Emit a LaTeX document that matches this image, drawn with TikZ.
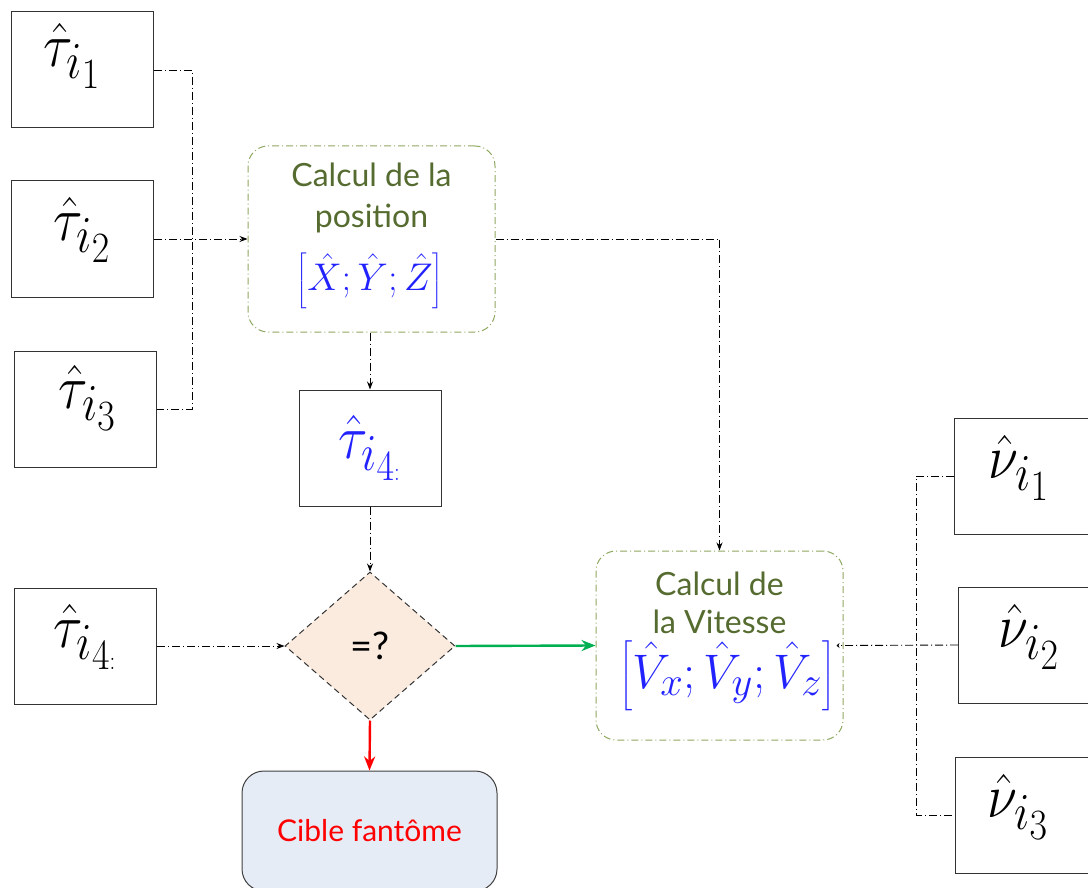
\documentclass[tikz,border=0pt]{standalone}
\usepackage{graphicx}
\usepackage{fontspec}
\setmainfont{Lato}
\usetikzlibrary{shapes.geometric,arrows.meta}
\definecolor{olivebd}{HTML}{8FA860}
\definecolor{olivetx}{HTML}{556B2F}
\definecolor{mblue}{HTML}{2222FF}
\definecolor{okgreen}{HTML}{00B050}
\definecolor{peach}{HTML}{FBEBDF}
\definecolor{lblue}{HTML}{E6ECF6}
\newcommand\mymath[2]{\scalebox{#1}{\Huge$#2$}}
\newcommand\boxmath[3]{\raisebox{#2}[\height][\depth]{\hspace*{#1}\scalebox{2.2}[2.5]{\Huge$#3$}}}
\newcommand\tcolon{\scalebox{0.6}{$\scriptscriptstyle:$}}
\begin{document}
\begin{tikzpicture}[x=1pt,y=-1pt,
  inbox/.style={draw=black!80, line width=1pt, minimum width=142pt, minimum height=116pt, inner sep=0pt},
  calcbox/.style={draw=olivebd, dash pattern=on 7pt off 3pt on 1pt off 3pt, line width=1pt, rounded corners=20pt, minimum width=247pt, inner sep=0pt},
  calctext/.style={text=olivetx, anchor=base, font=\fontsize{32}{36}\selectfont, inner sep=0pt},
  mathtext/.style={text=mblue, inner sep=0pt},
  link/.style={dash pattern=on 8pt off 3pt on 1pt off 3pt, line width=0.9pt, black},
  arr/.style={-{Stealth[length=8pt,width=6pt]}},
  thick arrow/.style={line width=2.4pt, -{Stealth[length=14pt,width=11pt]}}
]
\useasboundingbox (0,0) rectangle (1088,888);

% left inputs
\node[inbox] (t1) at (82.5,70) {\boxmath{-20pt}{14pt}{\hat{\tau}_{i_1}}};
\node[inbox] (t2) at (82.5,239) {\boxmath{0pt}{9pt}{\hat{\tau}_{i_2}}};
\node[inbox] (t3) at (85.5,409) {\boxmath{5pt}{11pt}{\hat{\tau}_{i_3}}};
\node[inbox] (t4) at (85.5,646) {\boxmath{0pt}{9pt}{\hat{\tau}_{i_{4\tcolon}}}};

% position box
\node[calcbox, minimum height=186pt] (pos) at (371.5,239) {};
\node[calctext] (posT1) at (371.5,187) {Calcul de la};
\node[calctext] (posT2) at (371.5,227) {position};
\node[mathtext] (posM) at (370,281) {\mymath{1.55}{\left[\hat{X};\hat{Y};\hat{Z}\right]}};

% tau4 estimate
\node[inbox, text=mblue] (t4b) at (370,448) {\boxmath{0pt}{0pt}{\hat{\tau}_{i_{4\tcolon}}}};

% decision
\node[diamond, draw=black!80, dash pattern=on 6pt off 4pt, line width=1pt, fill=peach, minimum width=170pt, minimum height=148pt, inner sep=0pt] (dec) at (370,646) {\fontsize{38}{40}\selectfont =?};

% ghost target
\node[draw=black!75, line width=1pt, fill=lblue, rounded corners=22pt, minimum width=255pt, minimum height=120pt, text=red] (cib) at (369.5,831) {\fontsize{30}{32}\selectfont Cible fantôme};

% velocity box
\node[calcbox, minimum height=189pt] (vit) at (719.5,645.5) {};
\node[calctext] (vitT1) at (719.5,595) {Calcul de};
\node[calctext] (vitT2) at (719.5,633) {la Vitesse};
\node[mathtext] (vitM) at (727.5,676) {\mymath{1.95}{\left[\hat{V}_x;\hat{V}_y;\hat{V}_z\right]}};

% right inputs
\node[inbox, minimum width=150pt, anchor=west] (n1) at (954,476) {\boxmath{-20pt}{8pt}{\hat{\nu}_{i_1}}};
\node[inbox, minimum width=150pt, anchor=west] (n2) at (958,645) {\boxmath{-8pt}{8pt}{\hat{\nu}_{i_2}}};
\node[inbox, minimum width=150pt, anchor=west] (n3) at (955,815) {\boxmath{-24pt}{8pt}{\hat{\nu}_{i_3}}};

% connectors
\coordinate (jL) at (192,239);
\coordinate (jR) at (916,645);
\draw[link] (t1.east) -| (jL) |- (t3.east);
\draw[link,arr] (t2.east) -- (pos.west);
\draw[link,arr] (pos.east) -| (vit.north);
\draw[link,arr] (t4b.north |- pos.south) -- (t4b.north);
\draw[link,arr] (t4b.south) -- (dec.north);
\draw[link,arr] (t4.east) -- (dec.west);
\draw[thick arrow, okgreen] (dec.east) -- (vit.west);
\draw[thick arrow, red] (dec.south) -- (cib.north);
\draw[link] (n1.west) -| (jR) |- (n3.west);
\draw[link, -{Stealth[length=3pt,width=5pt]}, shorten >=-7pt] (n2.west) -- (vit.east);
\end{tikzpicture}
\end{document}
